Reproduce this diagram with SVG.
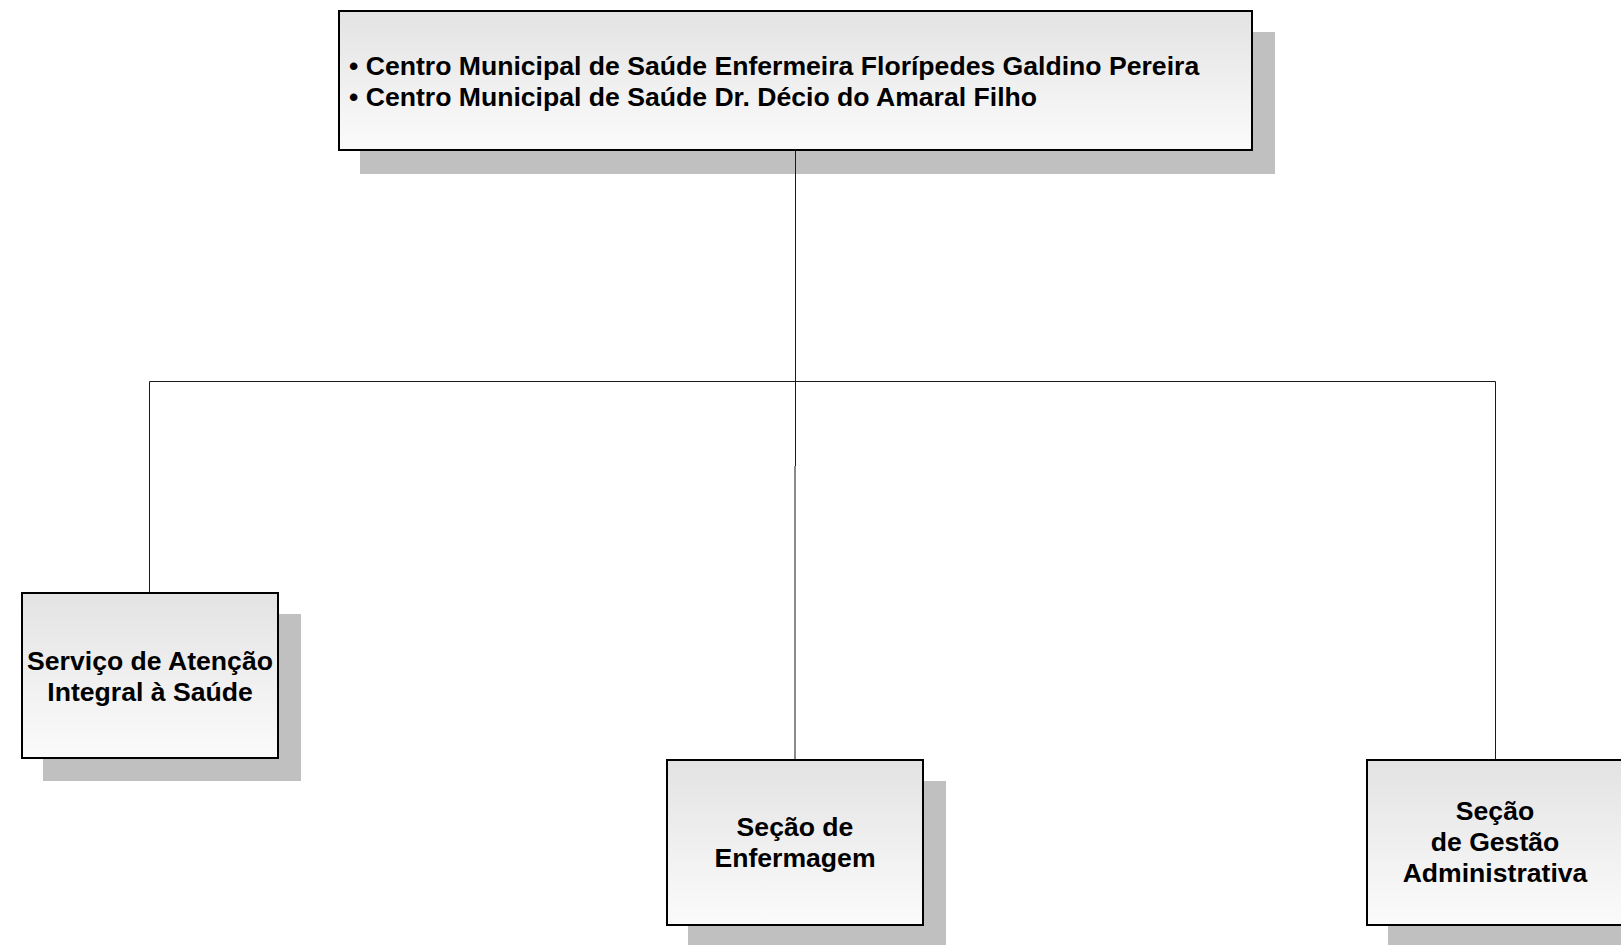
<svg xmlns="http://www.w3.org/2000/svg" width="1621" height="945" viewBox="0 0 1621 945">
<defs>
<linearGradient id="fill" x1="0" y1="0" x2="0" y2="1">
<stop offset="0" stop-color="#e3e3e3"/>
<stop offset="1" stop-color="#fbfbfb"/>
</linearGradient>
</defs>
<style>
.shadow{fill:#c0c0c0}
.box{fill:url(#fill);stroke:#000;stroke-width:2}
.t{font-family:"Liberation Sans",Arial,sans-serif;font-weight:bold;font-size:26.6px;fill:#000}
.c{text-anchor:middle}
.ln{stroke:#1a1a1a;stroke-width:1;fill:none}
.ln2{stroke:#8a8a8a;stroke-width:2;fill:none}
</style>
<rect width="1621" height="945" fill="#fff"/>
<g id="node-top">
<rect class="shadow" x="360" y="32" width="915" height="142"/>
<rect class="box" x="339" y="11" width="913" height="139"/>
<text class="t" x="349" y="75">• Centro Municipal de Saúde Enfermeira Florípedes Galdino Pereira</text>
<text class="t" x="349" y="106">• Centro Municipal de Saúde Dr. Décio do Amaral Filho</text>
</g>
<g id="node-servico">
<rect class="shadow" x="43" y="614" width="258" height="167"/>
<rect class="box" x="22" y="593" width="256" height="165"/>
<text class="t c" x="150" y="670">Serviço de Atenção</text>
<text class="t c" x="150" y="701">Integral à Saúde</text>
</g>
<g id="node-enfermagem">
<rect class="shadow" x="688" y="781" width="258" height="167"/>
<rect class="box" x="667" y="760" width="256" height="165"/>
<text class="t c" x="795" y="836">Seção de</text>
<text class="t c" x="795" y="867">Enfermagem</text>
</g>
<g id="node-gestao">
<rect class="shadow" x="1388" y="781" width="258" height="167"/>
<rect class="box" x="1367" y="760" width="256" height="165"/>
<text class="t c" x="1495" y="820">Seção</text>
<text class="t c" x="1495" y="851">de Gestão</text>
<text class="t c" x="1495" y="882">Administrativa</text>
</g>
<g id="connectors">
<line class="ln" x1="795.5" y1="151" x2="795.5" y2="467"/>
<line class="ln2" x1="795" y1="466" x2="795" y2="759"/>
<line class="ln" x1="149.5" y1="381.5" x2="1495.5" y2="381.5"/>
<line class="ln" x1="149.5" y1="381.5" x2="149.5" y2="592"/>
<line class="ln" x1="1495.5" y1="381.5" x2="1495.5" y2="759"/>
</g>
</svg>
